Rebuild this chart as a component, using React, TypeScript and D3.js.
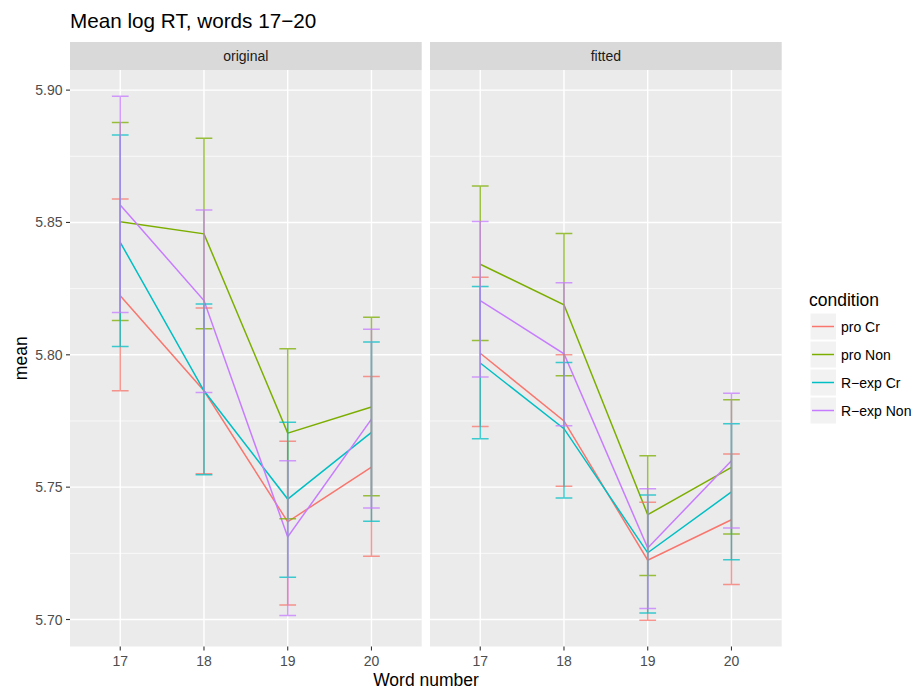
import React from "react";
import * as d3 from "d3";

// Word positions and experimental conditions
const words = ["17", "18", "19", "20"];
const conditions = ["pro Cr", "pro Non", "R−exp Cr", "R−exp Non"];
const facets = ["original", "fitted"];
const colors = ["#F8766D", "#7CAE00", "#00BFC4", "#C77CFF"];

// Original means and 95% intervals, one row per condition (words 17..20)
const originalMean = [
  [5.8223, 5.7864, 5.7369, 5.7576],
  [5.8503, 5.8457, 5.7704, 5.7803],
  [5.8425, 5.7864, 5.7455, 5.7707],
  [5.8566, 5.8205, 5.7312, 5.7757],
];
const originalLower = [
  [5.7864, 5.7551, 5.7055, 5.7239],
  [5.813, 5.8098, 5.7381, 5.7468],
  [5.8031, 5.7547, 5.716, 5.7371],
  [5.816, 5.7858, 5.7015, 5.7421],
];
const originalUpper = [
  [5.8589, 5.8177, 5.7673, 5.7918],
  [5.8878, 5.8818, 5.8023, 5.8142],
  [5.883, 5.8192, 5.7745, 5.8048],
  [5.8977, 5.8547, 5.76, 5.8097],
];

// Model-fitted means and intervals
const fittedMean = [
  [5.8006, 5.775, 5.7224, 5.7377],
  [5.8342, 5.8189, 5.7396, 5.7575],
  [5.7969, 5.7721, 5.7252, 5.7482],
  [5.8205, 5.8004, 5.727, 5.76],
];
const fittedLower = [
  [5.7729, 5.7503, 5.6997, 5.7132],
  [5.8054, 5.7921, 5.7166, 5.7323],
  [5.7683, 5.7459, 5.7025, 5.7226],
  [5.7916, 5.7732, 5.7042, 5.7346],
];
const fittedUpper = [
  [5.8293, 5.8, 5.7443, 5.7625],
  [5.8638, 5.8458, 5.7619, 5.783],
  [5.8258, 5.7971, 5.747, 5.774],
  [5.8504, 5.8272, 5.7494, 5.7855],
];

const yMajor = [5.7, 5.75, 5.8, 5.85, 5.9];
const yMinor = [5.725, 5.775, 5.825, 5.875];

const FONT = "'Liberation Sans', Arial, Helvetica, sans-serif";
const W = 914;
const H = 690;
const panelTop = 70;
const panelBottom = 646.5;
const stripTop = 42;
const panelX = [70, 430];
const panelW = 351.7;

export default function App() {
  const facetData = [
    { mean: originalMean, lo: originalLower, hi: originalUpper },
    { mean: fittedMean, lo: fittedLower, hi: fittedUpper },
  ];
  const allVals = facetData.flatMap((f) => [...f.lo.flat(), ...f.hi.flat()]);
  const [mn, mx] = d3.extent(allVals) as [number, number];
  const pad = (mx - mn) * 0.05;
  const y = d3.scaleLinear().domain([mn - pad, mx + pad]).range([panelBottom, panelTop]);

  const line = (xs: d3.ScalePoint<string>) =>
    d3
      .line<number>()
      .x((_, i) => xs(words[i]) as number)
      .y((v) => y(v));

  return (
    <svg
      width={W}
      height={H}
      style={{ position: "absolute", left: 0, top: 0, background: "#fff" }}
      fontFamily={FONT}
    >
      <rect width={W} height={H} fill="#fff" />
      <text x={70} y={28} fontSize={20.7} fill="#000">
        Mean log RT, words 17−20
      </text>

      {facets.map((name, fi) => {
        const x0 = panelX[fi];
        const xs = d3
          .scalePoint<string>()
          .domain(words)
          .range([x0, x0 + panelW])
          .padding(0.6);
        const fd = facetData[fi];
        const capHalf = (xs.step() * 0.2) / 2;
        return (
          <g key={name}>
            <rect x={x0} y={stripTop} width={panelW} height={panelTop - stripTop} fill="#D9D9D9" />
            <text
              x={x0 + panelW / 2}
              y={(stripTop + panelTop) / 2 + 5}
              textAnchor="middle"
              fontSize={14}
              fill="#1A1A1A"
            >
              {name}
            </text>
            <rect x={x0} y={panelTop} width={panelW} height={panelBottom - panelTop} fill="#EBEBEB" />
            {yMinor.map((v) => (
              <line key={"mn" + v} x1={x0} x2={x0 + panelW} y1={y(v)} y2={y(v)} stroke="#fff" strokeWidth={0.7} />
            ))}
            {yMajor.map((v) => (
              <line key={"mj" + v} x1={x0} x2={x0 + panelW} y1={y(v)} y2={y(v)} stroke="#fff" strokeWidth={1.4} />
            ))}
            {words.map((w) => (
              <line key={"vx" + w} x1={xs(w)} x2={xs(w)} y1={panelTop} y2={panelBottom} stroke="#fff" strokeWidth={1.4} />
            ))}

            {fd.mean.map((row, ci) => (
              <path key={"ln" + ci} d={line(xs)(row) as string} fill="none" stroke={colors[ci]} strokeWidth={1.5} />
            ))}

            {fd.mean.map((row, ci) => (
              <g key={"eb" + ci} stroke={colors[ci]} strokeWidth={1.5} opacity={0.75} fill="none">
                {row.map((_, wi) => {
                  const cx = xs(words[wi]) as number;
                  const yl = y(fd.lo[ci][wi]);
                  const yh = y(fd.hi[ci][wi]);
                  return (
                    <path
                      key={wi}
                      d={`M${cx - capHalf},${yh}H${cx + capHalf}M${cx},${yh}V${yl}M${cx - capHalf},${yl}H${cx + capHalf}`}
                    />
                  );
                })}
              </g>
            ))}

            {words.map((w) => (
              <g key={"xt" + w}>
                <line x1={xs(w)} x2={xs(w)} y1={panelBottom} y2={panelBottom + 4} stroke="#333" strokeWidth={1.1} />
                <text x={xs(w)} y={666} textAnchor="middle" fontSize={14} fill="#4D4D4D">
                  {w}
                </text>
              </g>
            ))}
          </g>
        );
      })}

      {yMajor.map((v) => (
        <g key={"yt" + v}>
          <line x1={66} x2={70} y1={y(v)} y2={y(v)} stroke="#333" strokeWidth={1.1} />
          <text x={62.5} y={y(v) + 5} textAnchor="end" fontSize={14} fill="#4D4D4D">
            {v.toFixed(2)}
          </text>
        </g>
      ))}

      <text x={426} y={686} textAnchor="middle" fontSize={17.5} fill="#000">
        Word number
      </text>
      <text
        transform={`translate(26.5, ${(panelTop + panelBottom) / 2}) rotate(-90)`}
        textAnchor="middle"
        fontSize={17.5}
        fill="#000"
      >
        mean
      </text>

      <g>
        <text x={809} y={306} fontSize={17.5} fill="#000">
          condition
        </text>
        {conditions.map((c, i) => {
          const ky = 313 + i * 28;
          return (
            <g key={c}>
              <rect x={810} y={ky} width={26.5} height={27} fill="#F2F2F2" stroke="#fff" strokeWidth={1} />
              <line x1={812} x2={834} y1={ky + 13.5} y2={ky + 13.5} stroke={colors[i]} strokeWidth={1.5} />
              <text x={841} y={ky + 18.5} fontSize={14} fill="#000">
                {c}
              </text>
            </g>
          );
        })}
      </g>
    </svg>
  );
}
